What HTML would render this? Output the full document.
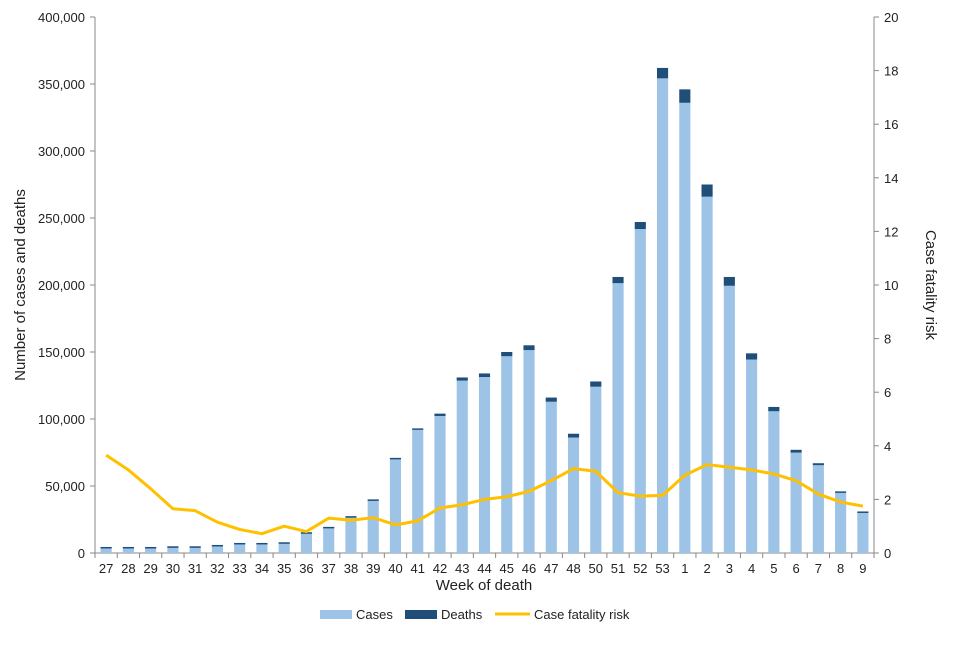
<!DOCTYPE html>
<html><head><meta charset="utf-8"><style>
body{margin:0;background:#fff;}
svg text{font-family:"Liberation Sans",sans-serif;fill:#222;}
</style></head><body>
<svg id="chart" width="960" height="640"></svg>
<script>
const weeks=["27","28","29","30","31","32","33","34","35","36","37","38","39","40","41","42","43","44","45","46","47","48","50","51","52","53","1","2","3","4","5","6","7","8","9"];
const totals=[4500,4500,4500,5000,5000,6000,7500,7500,8000,15500,19500,27500,40000,71000,93000,104000,131000,134000,150000,155000,116000,89000,128000,206000,247000,362000,346000,275000,206000,149000,109000,77000,67000,46000,31000];
const cfr=[3.65,3.1,2.4,1.65,1.58,1.15,0.88,0.72,1.0,0.8,1.3,1.22,1.32,1.05,1.2,1.68,1.8,2.0,2.1,2.3,2.7,3.15,3.05,2.25,2.12,2.15,2.9,3.3,3.2,3.1,2.95,2.7,2.2,1.9,1.75];
const leftTicks=[0,50000,100000,150000,200000,250000,300000,350000,400000];
const rightTicks=[0,2,4,6,8,10,12,14,16,18,20];

const NS="http://www.w3.org/2000/svg";
const svg=document.getElementById('chart');
function mk(t,a,txt){const e=document.createElementNS(NS,t);for(const k in a)e.setAttribute(k,a[k]);if(txt!==undefined)e.textContent=txt;svg.appendChild(e);return e;}
const L=95,R=874,T=17,B=553;
const band=(R-L)/weeks.length;
const xC=i=>L+band*(i+0.5);
const yL=v=>B-(v/400000)*(B-T);
const yR=v=>B-(v/20)*(B-T);

// axes
let e;
e=mk('line',{x1:L,y1:T,x2:L,y2:B,stroke:'#888'});


e=mk('line',{x1:R,y1:T,x2:R,y2:B,stroke:'#888'});


e=mk('line',{x1:L,y1:B,x2:R,y2:B,stroke:'#888'});



leftTicks.forEach(v=>{
  mk('line',{x1:L-5,y1:yL(v),x2:L,y2:yL(v),stroke:'#888'});
  e=mk('text',{x:L-10,y:yL(v)+5,'text-anchor':'end','font-size':13},v.toLocaleString('en-US'));
  
  
});
rightTicks.forEach(v=>{
  mk('line',{x1:R,y1:yR(v),x2:R+5,y2:yR(v),stroke:'#888'});
  e=mk('text',{x:R+10,y:yR(v)+5,'text-anchor':'start','font-size':13},String(v));
  
  
});
weeks.forEach((w,i)=>{
  mk('line',{x1:L+band*i,y1:B,x2:L+band*i,y2:B+5,stroke:'#888'});
  e=mk('text',{x:xC(i),y:B+20,'text-anchor':'middle','font-size':13},w);
  
  
});
mk('line',{x1:R,y1:B,x2:R,y2:B+5,stroke:'#888'});

// bars
const bw=band*0.5;
weeks.forEach((w,i)=>{
  const tot=totals[i];
  const deaths=tot*cfr[i]/100;
  const cases=tot-deaths;
  e=mk('rect',{x:xC(i)-bw/2,y:yL(cases),width:bw,height:B-yL(cases),fill:'#9dc3e6'});
  
  
  e=mk('rect',{x:xC(i)-bw/2,y:yL(tot),width:bw,height:Math.max(yL(cases)-yL(tot),1.5),fill:'#1f4e79'});
  
  
});
// line
const pts=cfr.map((v,i)=>xC(i)+','+yR(v)).join(' ');
e=mk('polyline',{points:pts,fill:'none',stroke:'#ffc000','stroke-width':3,'stroke-linejoin':'round'});



// titles
e=mk('text',{x:25,y:285,'text-anchor':'middle','font-size':15,transform:'rotate(-90 25 285)'},'Number of cases and deaths');


e=mk('text',{x:926,y:285,'text-anchor':'middle','font-size':15,transform:'rotate(90 926 285)'},'Case fatality risk');


e=mk('text',{x:484,y:590,'text-anchor':'middle','font-size':15},'Week of death');



// legend
e=mk('rect',{x:320,y:610,width:32,height:9,fill:'#9dc3e6'});


e=mk('text',{x:356,y:619,'font-size':13},'Cases');


e=mk('rect',{x:405,y:610,width:32,height:9,fill:'#1f4e79'});


e=mk('text',{x:441,y:619,'font-size':13},'Deaths');


e=mk('line',{x1:495,y1:614,x2:530,y2:614,stroke:'#ffc000','stroke-width':3});


e=mk('text',{x:534,y:619,'font-size':13},'Case fatality risk');


</script>
</body></html>
